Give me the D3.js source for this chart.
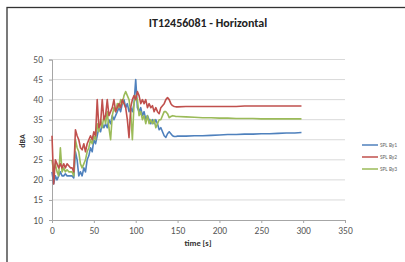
<!DOCTYPE html>
<html><head><meta charset="utf-8">
<script src="https://cdn.jsdelivr.net/npm/d3@7"></script>
<style>body{margin:0;background:#fff;}svg{display:block;font-family:Calibri,"Liberation Sans","DejaVu Sans",sans-serif;}</style>
</head><body>
<svg id="c" width="405" height="262"></svg>
<script>
const title = "IT12456081 - Horizontal";
const xTitle = "time [s]";
const yTitle = "dBA";
const seriesNames = ["SPL By1", "SPL By2", "SPL By3"];
const colors = ["#4F81BD", "#C0504D", "#9BBB59"];
const xTicks = [0, 50, 100, 150, 200, 250, 300, 350];
const yTicks = [10, 15, 20, 25, 30, 35, 40, 45, 50];

const time = [0,2,4,6,8,10,12,14,16,18,20,22,24,26,28,30,32,34,36,38,40,42,44,46,48,50,52,54,56,58,60,62,64,66,68,70,72,74,76,78,80,82,84,86,88,90,92,94,96,98,100,102,104,106,108,110,112,114,116,118,120,122,124,126,128,130,132,134,136,138,140,142,144,146,148,150,160,170,180,190,200,210,220,230,240,250,260,270,280,290,298];

const by1 = [22,19,21,20,21,22,21,21,21.5,21,21,21,21,20.5,27,25,21,22,21,23,22,25,26,28,27,30,29,31,33,32,34,33,34,33,35,34,36,35,36,37,38,37,39,40,38,39,37,38,37,39,45,38,37,38,36,37,35,36,35,34,35,34,35,34,32.5,33,32,31,30.6,31.5,32,31.5,31,30.8,30.8,30.9,30.9,31,31,31.1,31.2,31.3,31.3,31.4,31.4,31.5,31.5,31.6,31.7,31.7,31.8];

const by2 = [31,19,25,24,23,24,23,24,23,24,23.5,23,23,22,32.5,31,30,28,27.5,29,27,29,30,31,30,32,31,40,33,34,40,35,36,40,36,37,38,40,37,38,39,38,40,39,38,35,30.5,38,40,41,40,42,41,39,40,39,40,38,39,38,38.5,37,38,37,36.5,38,38.5,39,40,40.5,40,39,38.5,38.3,38.2,38.2,38.3,38.3,38.3,38.3,38.3,38.3,38.3,38.4,38.4,38.4,38.4,38.4,38.4,38.4,38.4];

const by3 = [25,22,24,22,21,28,22,23,22,22.5,22,22,22,21,30,28,27,24,23,24,25,27,28,30,29,31,30,34,32,35,33,36,34,37,33,30,36,38,37,39,38,40,39,41,42,41,40,37,30,39,41,40,36,37,35,36,34,36,34,35,34,35,33,34,35,35,36,37,37,36.5,35.5,35.8,36,35.9,35.8,35.8,35.7,35.6,35.5,35.5,35.4,35.4,35.3,35.3,35.3,35.2,35.2,35.2,35.2,35.2,35.2];

const svg = d3.select("#c");
// outer frame
svg.append("rect").attr("x", 7).attr("y", 7.5).attr("width", 420).attr("height", 280)
  .attr("fill", "#fff").attr("stroke", "#333").attr("stroke-width", 1.3);

const m = {l: 52, r: 345, t: 59.5, b: 220};
const x = d3.scaleLinear().domain([0, 350]).range([m.l, m.r]);
const y = d3.scaleLinear().domain([10, 50]).range([m.b, m.t]);

// grid
svg.append("g").selectAll("line").data(yTicks.slice(1)).join("line")
  .attr("x1", m.l).attr("x2", m.r).attr("y1", d => y(d)).attr("y2", d => y(d))
  .attr("stroke", "#d9d9d9").attr("stroke-width", 1);

// axes
const gx = svg.append("g").attr("transform", `translate(0,${m.b})`)
  .call(d3.axisBottom(x).tickValues(xTicks).tickSize(3).tickPadding(4));
const gy = svg.append("g").attr("transform", `translate(${m.l},0)`)
  .call(d3.axisLeft(y).tickValues(yTicks).tickSize(3).tickPadding(6));
[gx, gy].forEach(g => {
  g.select(".domain").attr("stroke", "#a6a6a6");
  g.selectAll(".tick line").attr("stroke", "#a6a6a6");
  g.selectAll(".tick text").attr("fill", "#555").attr("font-size", "9.5px")
    .attr("font-family", "Calibri,'Liberation Sans','DejaVu Sans',sans-serif");
});

const line = d3.line().x((d, i) => x(time[i])).y(d => y(d)).curve(d3.curveLinear);
const data = [by1, by3, by2];
const dcol = [colors[0], colors[2], colors[1]];
data.forEach((s, k) => {
  svg.append("path").datum(s).attr("d", line).attr("fill", "none")
    .attr("stroke", dcol[k]).attr("stroke-width", 1.6).attr("stroke-linejoin", "round");
});

// titles
svg.append("text").attr("x", 208).attr("y", 27).attr("text-anchor", "middle")
  .attr("font-size", "12px").attr("font-weight", "bold").attr("fill", "#222").text(title);
svg.append("text").attr("x", 198).attr("y", 246).attr("text-anchor", "middle")
  .attr("font-size", "8.5px").attr("font-weight", "bold").attr("fill", "#333").text(xTitle);
svg.append("text").attr("transform", "translate(25,141) rotate(-90)").attr("text-anchor", "middle")
  .attr("font-size", "8px").attr("font-weight", "bold").attr("fill", "#333").text(yTitle);

// legend
const lg = svg.append("g");
seriesNames.forEach((n, i) => {
  const yy = 145 + i * 12;
  lg.append("line").attr("x1", 362).attr("x2", 378).attr("y1", yy).attr("y2", yy)
    .attr("stroke", colors[i]).attr("stroke-width", 1.5);
  lg.append("text").attr("x", 380).attr("y", yy + 2).attr("font-size", "5.5px")
    .attr("fill", "#666").text(n);
});
</script>
</body></html>
